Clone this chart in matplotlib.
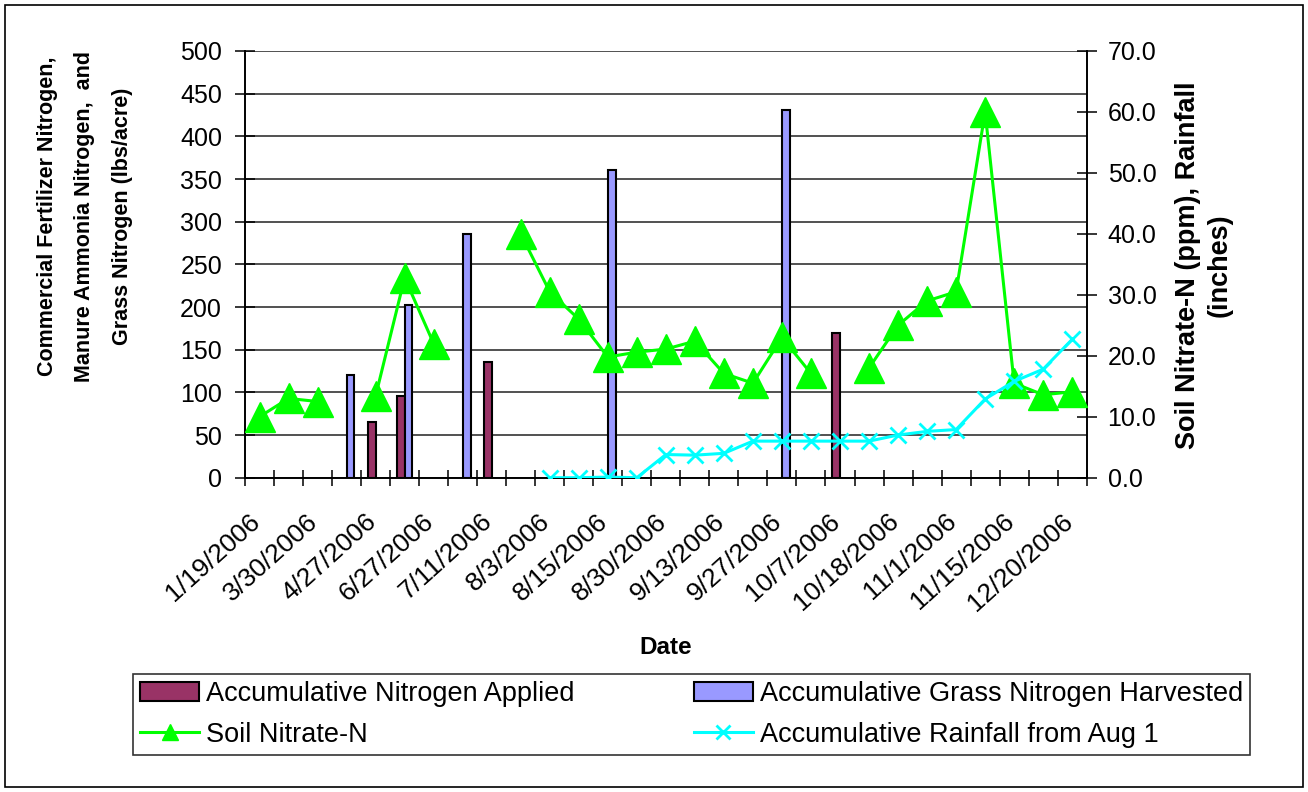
import numpy as np
import matplotlib
matplotlib.use("Agg")
import matplotlib.pyplot as plt
from matplotlib.patches import Rectangle, Patch
from matplotlib.lines import Line2D
import matplotlib.transforms as mtransforms

plt.rcParams['font.family'] = ['Liberation Sans', 'DejaVu Sans']

nan = np.nan
# 29 sampling dates (category axis); only every other date is labelled in the chart
n_categories = 29
tick_labels = ["1/19/2006", "3/30/2006", "4/27/2006", "6/27/2006", "7/11/2006",
               "8/3/2006", "8/15/2006", "8/30/2006", "9/13/2006", "9/27/2006",
               "10/7/2006", "10/18/2006", "11/1/2006", "11/15/2006", "12/20/2006"]

nitrogen_applied = [nan, nan, nan, nan, 65, 96, nan, nan, 136, nan,
                    nan, nan, nan, nan, nan, nan, nan, nan, nan, nan,
                    170, nan, nan, nan, nan, nan, nan, nan, nan]
grass_harvested = [nan, nan, nan, 120, nan, 202, nan, 285, nan, nan,
                   nan, nan, 361, nan, nan, nan, nan, nan, 431, nan,
                   nan, nan, nan, nan, nan, nan, nan, nan, nan]
soil_nitrate = [10.0, 13.0, 12.5, nan, 13.4, 32.8, 22.0, nan, nan, 40.0,
                30.5, 26.0, 19.8, 20.6, 21.1, 22.4, 17.1, 15.5, 23.0, 17.1,
                nan, 18.0, 25.0, 29.0, 30.5, 60.0, 15.5, 13.6, 14.1]
rainfall = [nan, nan, nan, nan, nan, nan, nan, nan, nan, nan,
            0.0, 0.0, 0.1, 0.0, 3.8, 3.7, 4.0, 6.0, 6.0, 6.0,
            6.0, 6.0, 7.0, 7.6, 7.9, 12.9, 15.8, 17.8, 22.7]

series_names = ["Accumulative Nitrogen Applied", "Accumulative Grass Nitrogen Harvested",
                "Soil Nitrate-N", "Accumulative Rainfall from Aug 1"]

x = np.arange(n_categories)

W, H = 1308, 792
fig = plt.figure(figsize=(W / 100, H / 100), dpi=100)
fig.patch.set_facecolor('white')

left, right, top, bottom = 245, 1086.7, 51, 477.7
ax = fig.add_axes([left / W, 1 - bottom / H, (right - left) / W, (bottom - top) / H])
ax2 = ax.twinx()

ax.set_facecolor('white')
ax.set_axisbelow(True)
ax.yaxis.grid(True, color='#222222', linewidth=1.1)

bw = 0.27
b1 = ax.bar(x - bw / 2, nitrogen_applied, width=bw, color='#993366',
            edgecolor='black', linewidth=1.5, zorder=2)
b2 = ax.bar(x + bw / 2, grass_harvested, width=bw, color='#9999FF',
            edgecolor='black', linewidth=1.5, zorder=2)

ax2.plot(x, soil_nitrate, color='#00FF00', linewidth=2.2, marker='^',
         markersize=21, markerfacecolor='#00FF00', markeredgecolor='#00FF00',
         zorder=3)
ax2.plot(x, rainfall, color='#00FFFF', linewidth=2.2, marker='x',
         markersize=11, markeredgewidth=2.0, zorder=4)

ax.set_xlim(-0.5, n_categories - 0.5)
ax.set_ylim(0, 500)
ax.set_yticks(np.arange(0, 501, 50))
ax2.set_ylim(0, 70)
ax2.set_yticks(np.arange(0, 71, 10))
ax2.set_yticklabels([f"{v:.1f}" for v in np.arange(0, 71, 10)])

for a in (ax, ax2):
    a.spines['top'].set_visible(False)
    for s in ('left', 'right', 'bottom'):
        a.spines[s].set_color('black')
        a.spines[s].set_linewidth(1.2)

ax.tick_params(axis='y', direction='inout', length=14, width=1.1,
               labelsize=18, pad=9.5, colors='black')
ax2.tick_params(axis='y', direction='inout', length=14, width=1.1,
                labelsize=18, pad=8, colors='black')

# major ticks at category boundaries, labels at every other category centre
ax.set_xticks(np.arange(-0.5, n_categories, 1.0))
ax.set_xticklabels([])
ax.tick_params(axis='x', which='major', direction='inout', length=12, width=1.1)
ax.set_xticks(x[::2], minor=True)
ax.set_xticklabels(tick_labels, minor=True)
ax.tick_params(axis='x', which='minor', length=0, pad=29, labelsize=19)
offset = mtransforms.ScaledTranslation(-3 / 100, 0, fig.dpi_scale_trans)
for lab in ax.get_xticklabels(minor=True):
    lab.set_rotation(42)
    lab.set_rotation_mode('anchor')
    lab.set_ha('right')
    lab.set_va('center')
    lab.set_transform(lab.get_transform() + offset)

# axis titles
fig.text(85 / W, 1 - 216 / H,
         "Commercial Fertilizer Nitrogen,\nManure Ammonia Nitrogen,  and\nGrass Nitrogen (lbs/acre)",
         rotation=90, ha='center', va='center', fontsize=15.5, fontweight='bold',
         multialignment='center', linespacing=2.05)
fig.text(1204 / W, 1 - 265 / H, "Soil Nitrate-N (ppm), Rainfall\n(inches)",
         rotation=90, ha='center', va='center', fontsize=19.5, fontweight='bold',
         multialignment='center', linespacing=1.28)
fig.text(666 / W, 1 - 647 / H, "Date", ha='center', va='center',
         fontsize=17.5, fontweight='bold')

# legend
handles = [
    Patch(facecolor='#993366', edgecolor='black', linewidth=1.5),
    Line2D([], [], color='#00FF00', linewidth=2.2, marker='^', markersize=12,
           markerfacecolor='#00FF00', markeredgecolor='#00FF00'),
    Patch(facecolor='#9999FF', edgecolor='black', linewidth=1.5),
    Line2D([], [], color='#00FFFF', linewidth=2.2, marker='x', markersize=10,
           markeredgewidth=2.0),
]
labels = [series_names[0], series_names[2], series_names[1], series_names[3]]
lx0, ly0, lx1, ly1 = 133, 672, 1250, 757
leg = fig.legend(handles, labels, ncol=2, mode='expand',
                 bbox_to_anchor=(lx0 / W, 1 - ly1 / H, (lx1 - lx0) / W, (ly1 - ly0) / H),
                 loc='center', fontsize=19.5, frameon=True, fancybox=False,
                 edgecolor='black', handlelength=2.2, handletextpad=0.25,
                 labelspacing=0.55, borderpad=0.25, borderaxespad=0)
leg.get_frame().set_linewidth(1.2)

# chart area border
fig.patches.append(Rectangle((5 / W, 5 / H), (1303 - 5) / W, (787 - 5) / H,
                             transform=fig.transFigure, fill=False,
                             edgecolor='black', linewidth=1.2))

fig.savefig("out.png", dpi=100, facecolor='white')
